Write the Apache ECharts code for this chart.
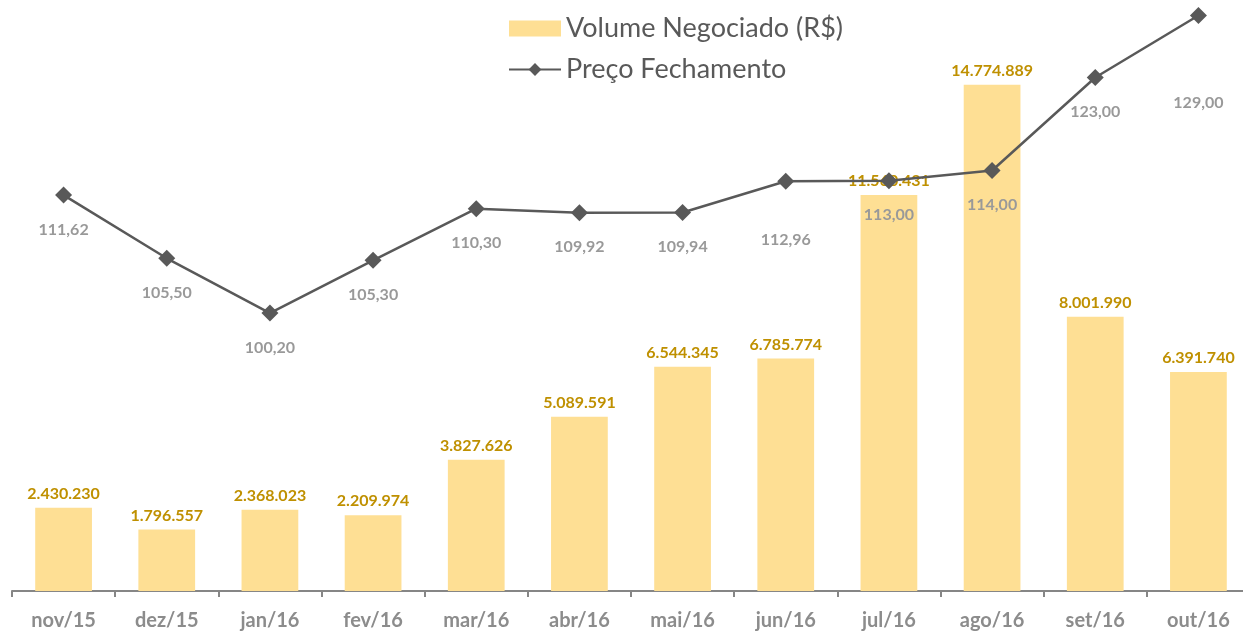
<!DOCTYPE html>
<html>
<head>
<meta charset="utf-8">
<script src="https://cdn.jsdelivr.net/npm/echarts@6/dist/echarts.min.js"></script>
<style>
    html, body { margin: 0; padding: 0; background: #fff; overflow: hidden; }
    #chart { width: 1252px; height: 631px; }
</style>
</head>
<body>
<div id="chart"></div>
<script>
var months = ['nov/15', 'dez/15', 'jan/16', 'fev/16', 'mar/16', 'abr/16', 'mai/16', 'jun/16', 'jul/16', 'ago/16', 'set/16', 'out/16'];
var volume = [2430230, 1796557, 2368023, 2209974, 3827626, 5089591, 6544345, 6785774, 11560431, 14774889, 8001990, 6391740];
var preco = [111.62, 105.50, 100.20, 105.30, 110.30, 109.92, 109.94, 112.96, 113.00, 114.00, 123.00, 129.00];

var fontFamily = 'Lato, "Open Sans", sans-serif';

function fmtVolume(v) {
    return String(v).replace(/\B(?=(\d{3})+(?!\d))/g, '.');
}
function fmtPreco(v) {
    return v.toFixed(2).replace('.', ',');
}

// a couple of price labels sit lower than the rest
var labelDistance = { 7: 42, 11: 71 };

var precoData = preco.map(function (v, i) {
    var item = { value: v };
    if (labelDistance[i]) {
        item.label = { distance: labelDistance[i] };
    }
    return item;
});

var chart = echarts.init(document.getElementById('chart'));

var option = {
    animation: false,
    textStyle: { fontFamily: fontFamily },
    legend: {
        orient: 'vertical',
        left: 503,
        top: 10,
        itemWidth: 52,
        itemHeight: 16,
        itemGap: 14,
        textStyle: {
            color: '#595959',
            fontSize: 27,
            fontFamily: fontFamily
        },
        data: [
            { name: 'Volume Negociado (R$)', icon: 'rect' },
            { name: 'Preço Fechamento' }
        ]
    },
    grid: {
        left: 12,
        width: 1238,
        top: 0,
        bottom: 35
    },
    xAxis: {
        type: 'category',
        data: months,
        axisLine: {
            lineStyle: { color: '#868686', width: 2 }
        },
        axisTick: {
            show: true,
            length: 6,
            lineStyle: { color: '#868686', width: 2 }
        },
        axisLabel: {
            color: '#8c8c8c',
            fontSize: 20,
            fontWeight: 'bold',
            margin: 20,
            fontFamily: fontFamily
        }
    },
    yAxis: [{
        type: 'value',
        min: 0,
        max: 17250000,
        show: false,
        splitLine: { show: false }
    }, {
        type: 'value',
        min: 73.3,
        max: 130.5,
        show: false,
        splitLine: { show: false }
    }],
    series: [{
        name: 'Volume Negociado (R$)',
        type: 'bar',
        data: volume,
        barWidth: '55%',
        itemStyle: { color: '#FEDF94' },
        label: {
            show: true,
            position: 'top',
            distance: 6,
            color: '#BF9000',
            fontSize: 16,
            fontWeight: 'bold',
            fontFamily: fontFamily,
            formatter: function (p) { return fmtVolume(p.value); }
        }
    }, {
        name: 'Preço Fechamento',
        type: 'line',
        yAxisIndex: 1,
        data: precoData,
        symbol: 'diamond',
        symbolSize: 17,
        clip: false,
        lineStyle: { color: '#595959', width: 2.5 },
        itemStyle: { color: '#595959' },
        label: {
            show: true,
            position: 'bottom',
            distance: 18,
            color: '#999999',
            fontSize: 16,
            fontWeight: 'bold',
            fontFamily: fontFamily,
            formatter: function (p) { return fmtPreco(p.value); }
        },
        z: 3
    }]
};

chart.setOption(option);
</script>
</body>
</html>
